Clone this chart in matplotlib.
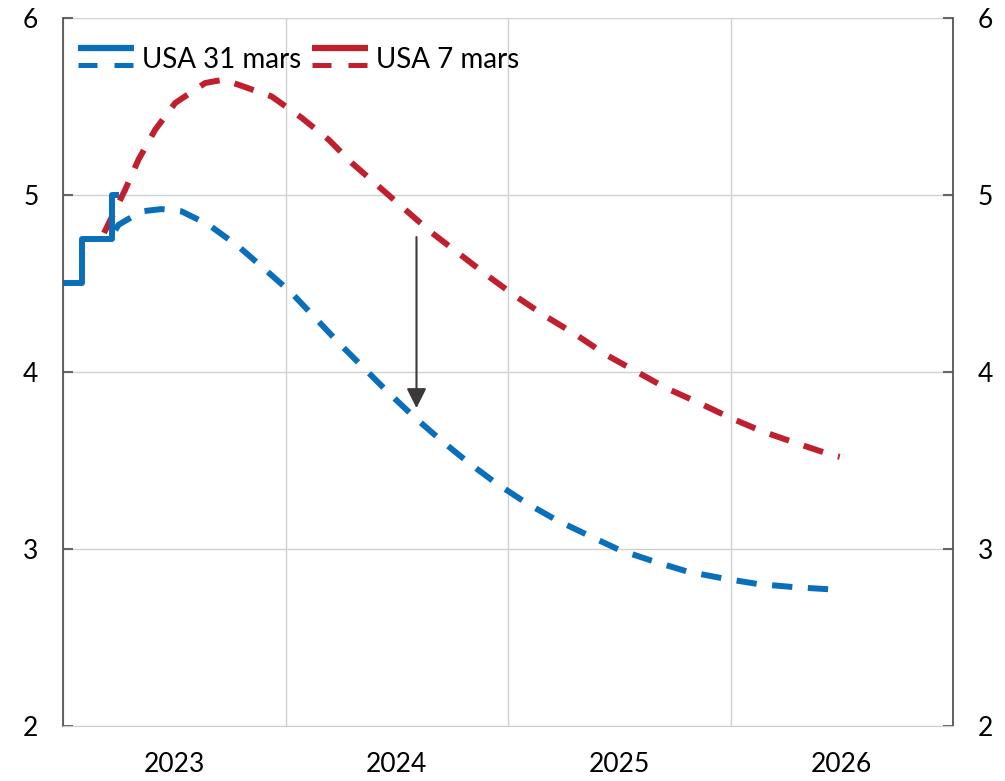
import pandas as pd
import matplotlib.pyplot as plt
import matplotlib.dates as mdates
from matplotlib.lines import Line2D
from matplotlib.legend_handler import HandlerBase

plt.rcParams['font.family'] = ['Lato', 'DejaVu Sans']

BLUE = '#0a6fba'
RED = '#c0202e'

# realised policy rate (upper bound)
hist_dates = ['2023-01-01', '2023-01-31', '2023-01-31', '2023-03-22', '2023-03-22', '2023-03-29']
hist_rate = [4.5, 4.5, 4.75, 4.75, 5.0, 5.0]

# market path 31 March (time in decimal years)
blue_t = [2023.234, 2023.248, 2023.351, 2023.441, 2023.532, 2023.653, 2023.788, 2023.909,
          2024.027, 2024.134, 2024.239, 2024.351, 2024.464, 2024.577, 2024.697, 2024.824,
          2024.945, 2025.080, 2025.215, 2025.356, 2025.500, 2025.658, 2025.806, 2025.964,
          2026.122, 2026.288, 2026.446, 2026.491]
blue_rate = [4.80, 4.83, 4.906, 4.919, 4.906, 4.831, 4.708, 4.576,
             4.446, 4.304, 4.164, 4.023, 3.881, 3.747, 3.616, 3.486,
             3.373, 3.260, 3.164, 3.079, 2.994, 2.928, 2.872, 2.834,
             2.802, 2.784, 2.772, 2.768]

# market path 7 March
red_t = [2023.183, 2023.278, 2023.338, 2023.413, 2023.503, 2023.638, 2023.721, 2023.788,
         2023.937, 2024.072, 2024.194, 2024.297, 2024.419, 2024.539, 2024.658, 2024.787,
         2024.914, 2025.035, 2025.170, 2025.305, 2025.440, 2025.575, 2025.710, 2025.860,
         2026.003, 2026.144, 2026.296, 2026.454, 2026.491]
red_rate = [4.784, 5.028, 5.198, 5.367, 5.518, 5.631, 5.650, 5.621,
            5.555, 5.435, 5.311, 5.181, 5.047, 4.915, 4.785, 4.661,
            4.538, 4.425, 4.312, 4.209, 4.096, 4.002, 3.908, 3.823,
            3.738, 3.663, 3.597, 3.531, 3.520]

arrow_t = 2024.589
arrow_from, arrow_to = 4.761, 3.795

x_ticks = ['2023-01-01', '2024-01-01', '2025-01-01', '2026-01-01', '2027-01-01']
x_labels = ['2023', '2024', '2025', '2026']
label_pos = ['2023-07-02', '2024-07-02', '2025-07-02', '2026-07-02']


def to_dates(years):
    return [pd.Timestamp(int(y), 1, 1) + pd.Timedelta(days=(y - int(y)) * 365.25) for y in years]


class TwoLineHandler(HandlerBase):
    def create_artists(self, legend, orig_handle, xdescent, ydescent,
                       width, height, fontsize, trans):
        color = orig_handle.get_color()
        top = Line2D([-xdescent, width - xdescent], [height * 0.88, height * 0.88],
                     color=color, lw=4.5, solid_capstyle='butt')
        bot = Line2D([-xdescent, width - xdescent], [height * 0.12, height * 0.12],
                     color=color, lw=3.6, linestyle=(0, (3.8, 3.4)))
        top.set_transform(trans)
        bot.set_transform(trans)
        return [top, bot]


fig = plt.figure(figsize=(10.05, 7.81), dpi=100)
ax = fig.add_axes([0.063, 0.0704, 0.885, 0.907])

dash = (0, (3.4, 2.6))
ax.plot(to_dates(red_t), red_rate, color=RED, lw=4.3, linestyle=dash)
ax.plot(to_dates(blue_t), blue_rate, color=BLUE, lw=4.3, linestyle=dash)
ax.plot(pd.to_datetime(hist_dates), hist_rate, color=BLUE, lw=4.3)

ad = mdates.date2num(to_dates([arrow_t])[0])
ax.annotate('', xy=(ad, arrow_to), xytext=(ad, arrow_from),
            arrowprops=dict(arrowstyle='-|>', color='#3a3a3a', lw=1.5,
                            mutation_scale=30, shrinkA=0, shrinkB=0))

ax.set_xlim(pd.Timestamp('2023-01-01'), pd.Timestamp('2027-01-01'))
ax.set_ylim(2, 6)
ax.set_yticks([2, 3, 4, 5, 6])
ax.set_xticks(pd.to_datetime(x_ticks))
ax.set_xticklabels([])
ax.set_xticks(pd.to_datetime(label_pos), minor=True)
ax.set_xticklabels(x_labels, minor=True)
ax.tick_params(axis='x', which='both', length=0, labelsize=19, pad=19)
ax.tick_params(axis='y', direction='in', length=7, width=1.5, color='#666666',
               labelsize=19, left=True, right=True, labelleft=True, labelright=True, pad=18)
ax.grid(True, which='major', color='#d0d0d0', lw=1)
ax.set_axisbelow(True)

for s in ['left', 'right']:
    ax.spines[s].set_color('#555555')
    ax.spines[s].set_linewidth(1.3)
ax.spines['top'].set_visible(False)
ax.spines['bottom'].set_color('#d0d0d0')

handles = [Line2D([], [], color=BLUE), Line2D([], [], color=RED)]
ax.legend(handles, ['USA 31 mars', 'USA 7 mars'], handler_map={Line2D: TwoLineHandler()},
          loc='upper left', bbox_to_anchor=(-0.002, 0.982), ncol=2, frameon=False,
          fontsize=20, handlelength=2.0, handleheight=0.9, handletextpad=0.3,
          columnspacing=0.4, borderaxespad=0.2)

fig.savefig('out.png', dpi=100)
